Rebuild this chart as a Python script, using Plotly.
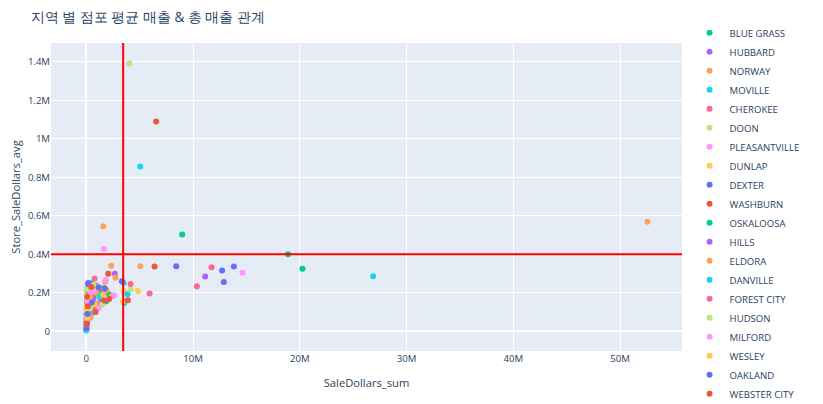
import plotly.graph_objects as go

title_text = "지역 별 점포 평균 매출 & 총 매출 관계"
x_title = "SaleDollars_sum"
y_title = "Store_SaleDollars_avg"

cities = ["BLUE GRASS", "HUBBARD", "NORWAY", "MOVILLE", "CHEROKEE", "DOON",
          "PLEASANTVILLE", "DUNLAP", "DEXTER", "WASHBURN", "OSKALOOSA", "HILLS",
          "ELDORA", "DANVILLE", "FOREST CITY", "HUDSON", "MILFORD", "WESLEY",
          "OAKLAND", "WEBSTER CITY"]

colors = ["#00cc96", "#ab63fa", "#FFA15A", "#19d3f3", "#FF6692", "#B6E880",
          "#FF97FF", "#FECB52", "#636efa", "#EF553B"]

x_tick_vals = [0, 10e6, 20e6, 30e6, 40e6, 50e6]
x_tick_text = ["0", "10M", "20M", "30M", "40M", "50M"]
y_tick_vals = [0, 0.2e6, 0.4e6, 0.6e6, 0.8e6, 1e6, 1.2e6, 1.4e6]
y_tick_text = ["0", "0.2M", "0.4M", "0.6M", "0.8M", "1M", "1.2M", "1.4M"]

# per-city values: SaleDollars_sum (x) and Store_SaleDollars_avg (y)
sale_sum = {
    "BLUE GRASS": [8_990_000, 470_000, 2_120_000, 60_000, 350_000, 900_000, 150_000, 1_300_000],
    "HUBBARD": [2_680_000, 40_000, 150_000, 420_000, 700_000, 1_050_000, 20_000, 250_000],
    "NORWAY": [52_560_000, 1_590_000, 2_340_000, 2_750_000, 30_000, 250_000, 600_000, 1_200_000, 90_000],
    "MOVILLE": [5_060_000, 26_870_000, 3_500_000, 10_000, 120_000, 480_000, 40_000, 900_000],
    "CHEROKEE": [780_000, 11_740_000, 10_360_000, 80_000, 330_000, 1_300_000, 30_000, 600_000],
    "DOON": [4_030_000, 4_150_000, 20_000, 180_000, 560_000, 1_100_000, 60_000, 2_000_000],
    "PLEASANTVILLE": [1_650_000, 14_640_000, 50_000, 280_000, 820_000, 1_500_000, 130_000],
    "DUNLAP": [4_840_000, 3_500_000, 10_000, 140_000, 450_000, 1_200_000, 60_000, 30_000],
    "DEXTER": [8_430_000, 12_730_000, 13_830_000, 190_000, 900_000, 60_000, 380_000, 20_000],
    "WASHBURN": [6_550_000, 6_400_000, 2_060_000, 440_000, 20_000, 260_000, 750_000, 1_350_000],
    "OSKALOOSA": [18_900_000, 20_250_000, 1_840_000, 30_000, 220_000, 1_450_000, 650_000, 90_000],
    "HILLS": [11_140_000, 2_560_000, 10_000, 90_000, 300_000, 650_000, 1_400_000, 25_000],
    "ELDORA": [5_060_000, 1_780_000, 2_340_000, 1_900_000, 60_000, 400_000, 950_000, 160_000],
    "DANVILLE": [3_870_000, 3_560_000, 5_000, 70_000, 230_000, 620_000, 1_250_000, 15_000],
    "FOREST CITY": [4_150_000, 5_930_000, 40_000, 170_000, 500_000, 1_000_000, 80_000, 1_650_000],
    "HUDSON": [1_620_000, 15_000, 120_000, 360_000, 80_000, 1_500_000, 700_000, 40_000],
    "MILFORD": [1_840_000, 2_560_000, 30_000, 200_000, 690_000, 1_150_000, 70_000, 400_000],
    "WESLEY": [3_430_000, 20_000, 100_000, 270_000, 780_000, 1_600_000, 50_000, 1_050_000],
    "OAKLAND": [3_340_000, 1_150_000, 1_720_000, 12_890_000, 15_000, 110_000, 530_000, 190_000],
    "WEBSTER CITY": [3_900_000, 2_150_000, 40_000, 160_000, 470_000, 880_000, 1_700_000, 100_000],
}
store_avg = {
    "BLUE GRASS": [503_000, 250_000, 193_000, 60_000, 170_000, 140_000, 210_000, 180_000],
    "HUBBARD": [299_000, 40_000, 100_000, 210_000, 120_000, 190_000, 50_000, 230_000],
    "NORWAY": [569_000, 545_000, 340_000, 278_000, 30_000, 170_000, 150_000, 210_000, 190_000],
    "MOVILLE": [856_000, 286_000, 251_000, 8_000, 110_000, 200_000, 20_000, 160_000],
    "CHEROKEE": [275_000, 333_000, 234_000, 80_000, 140_000, 160_000, 120_000, 230_000],
    "DOON": [1_390_000, 219_000, 20_000, 190_000, 90_000, 170_000, 220_000, 160_000],
    "PLEASANTVILLE": [429_000, 304_000, 50_000, 130_000, 230_000, 190_000, 170_000],
    "DUNLAP": [210_000, 209_000, 10_000, 150_000, 180_000, 150_000, 200_000, 130_000],
    "DEXTER": [338_000, 316_000, 337_000, 251_000, 238_000, 60_000, 120_000, 90_000],
    "WASHBURN": [1_090_000, 337_000, 299_000, 241_000, 20_000, 160_000, 110_000, 200_000],
    "OSKALOOSA": [400_000, 325_000, 155_000, 30_000, 210_000, 200_000, 180_000, 160_000],
    "HILLS": [285_000, 186_000, 10_000, 45_000, 90_000, 170_000, 165_000, 70_000],
    "ELDORA": [338_000, 258_000, 181_000, 215_000, 60_000, 70_000, 200_000, 240_000],
    "DANVILLE": [193_000, 147_000, 5_000, 70_000, 130_000, 100_000, 180_000, 30_000],
    "FOREST CITY": [246_000, 196_000, 40_000, 100_000, 180_000, 140_000, 150_000, 215_000],
    "HUDSON": [229_000, 15_000, 160_000, 120_000, 220_000, 140_000, 240_000, 100_000],
    "MILFORD": [268_000, 186_000, 25_000, 150_000, 210_000, 120_000, 80_000, 200_000],
    "WESLEY": [155_000, 20_000, 70_000, 180_000, 140_000, 190_000, 110_000, 230_000],
    "OAKLAND": [260_000, 229_000, 224_000, 256_000, 15_000, 90_000, 150_000, 245_000],
    "WEBSTER CITY": [162_000, 168_000, 40_000, 130_000, 230_000, 100_000, 160_000, 180_000],
}

sale_mean_line = 3_460_000
store_avg_line = 400_000

fig = go.Figure()
for i, c in enumerate(cities):
    fig.add_trace(go.Scatter(
        x=sale_sum[c], y=store_avg[c], mode="markers", name=c,
        marker=dict(color=colors[i % len(colors)], size=6),
    ))

fig.add_vline(x=sale_mean_line, line=dict(color="red", width=2))
fig.add_hline(y=store_avg_line, line=dict(color="red", width=2))

fig.update_layout(
    template="plotly",
    width=815, height=396,
    font=dict(size=9.6),
    title=dict(text=title_text, x=0.028, xanchor="left", y=0.977, yanchor="middle",
               font=dict(size=13.6)),
    margin=dict(l=43, r=141, t=35, b=53, autoexpand=False),
    legend=dict(font=dict(size=9.6), y=1.08, yanchor="top",
                x=1.012, xanchor="left", maxheight=400),
    xaxis=dict(title=dict(text=x_title, font=dict(size=11.2)),
               range=[-3_300_000, 55_800_000],
               tickvals=x_tick_vals, ticktext=x_tick_text),
    yaxis=dict(title=dict(text=y_title, font=dict(size=11.2)),
               range=[-102_000, 1_497_000],
               tickvals=y_tick_vals, ticktext=y_tick_text),
)

fig.write_html("out.html")
